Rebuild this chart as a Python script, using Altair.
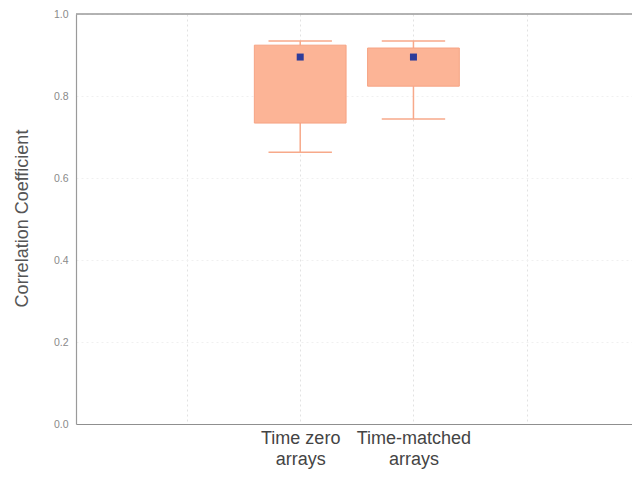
import altair as alt
import pandas as pd

# Two groups of correlation coefficients summarised as box plots
groups = ["Time zero arrays", "Time-matched arrays"]
positions = [2, 3]
whisker_low = [0.663, 0.744]
q1 = [0.734, 0.824]
q3 = [0.924, 0.917]
whisker_high = [0.934, 0.934]
centre = [0.895, 0.895]

grid_x = [1, 2, 3, 4]
y_ticks = [0.0, 0.2, 0.4, 0.6, 0.8, 1.0]

df = pd.DataFrame({
    "group": groups,
    "pos": positions,
    "lo": whisker_low,
    "q1": q1,
    "q3": q3,
    "hi": whisker_high,
    "mid": centre,
})

box_fill = "#FCB496"
box_line = "#F6A383"
whisk = "#F7A98A"

x_scale = alt.Scale(domain=[0.02, 4.93], nice=False, zero=False)
y_scale = alt.Scale(domain=[0, 1], nice=False)

label_expr = ("datum.value == 2 ? ['Time zero', 'arrays'] : "
              "datum.value == 3 ? ['Time-matched', 'arrays'] : ''")

x_axis = alt.Axis(
    values=grid_x, labelExpr=label_expr, title=None,
    grid=True, gridColor="#e2e2e2", gridDash=[2, 3], gridWidth=1,
    ticks=False, domainColor="#8f8f8f", domainWidth=1.2,
    labelFont="Liberation Sans", labelFontSize=18, labelColor="#444444",
    labelLineHeight=21, labelBaseline="top", labelPadding=5,
)
y_axis = alt.Axis(
    values=y_ticks, format=".1f", title="Correlation Coefficient",
    grid=True, gridColor="#f0f0f0", gridDash=[2, 3], gridWidth=1,
    ticks=False, domainColor="#9a9a9a", domainWidth=1.2,
    labelFont="Liberation Sans", labelFontSize=10.5, labelColor="#8a8a8a",
    labelPadding=8,
    titleFont="Liberation Sans", titleFontSize=18, titleFontWeight="normal",
    titleColor="#555555", titleAngle=-90, titleX=-49, titleY=204,
    titleAlign="center", titleBaseline="alphabetic",
)

base = alt.Chart(df)

frame_top = base.mark_rule(color="#9a9a9a", strokeWidth=1.2).encode(
    y=alt.datum(1.0, scale=y_scale, axis=y_axis)
)

lower_whisker = base.mark_rule(color=whisk, strokeWidth=1.5).encode(
    x=alt.X("pos:Q", scale=x_scale, axis=x_axis),
    y=alt.Y("lo:Q", scale=y_scale, axis=y_axis),
    y2="q1:Q",
)
upper_whisker = base.mark_rule(color=whisk, strokeWidth=1.5).encode(
    x="pos:Q", y="q3:Q", y2="hi:Q",
)

caps = base.transform_fold(["lo", "hi"], as_=["end", "val"]).transform_calculate(
    c0="datum.pos - 0.28", c1="datum.pos + 0.28"
).mark_rule(color=whisk, strokeWidth=1.5).encode(
    x="c0:Q", x2="c1:Q", y="val:Q",
)

boxes = base.transform_calculate(
    b0="datum.pos - 0.405", b1="datum.pos + 0.405"
).mark_rect(fill=box_fill, stroke=box_line, strokeWidth=1).encode(
    x="b0:Q", x2="b1:Q", y="q1:Q", y2="q3:Q",
)

marker = base.mark_point(shape="square", filled=True, size=49,
                         color="#2E3C9A", opacity=1).encode(
    x="pos:Q", y="mid:Q",
)

chart = alt.layer(
    lower_whisker, upper_whisker, caps, boxes, marker, frame_top
).properties(
    width=556, height=410,
    autosize=alt.AutoSizeParams(type="none"),
    padding={"left": 76, "top": 14, "right": 0, "bottom": 55},
    background="#ffffff",
).configure_view(stroke=None)

chart.save("out.html", embed_options={"renderer": "svg", "actions": False})
